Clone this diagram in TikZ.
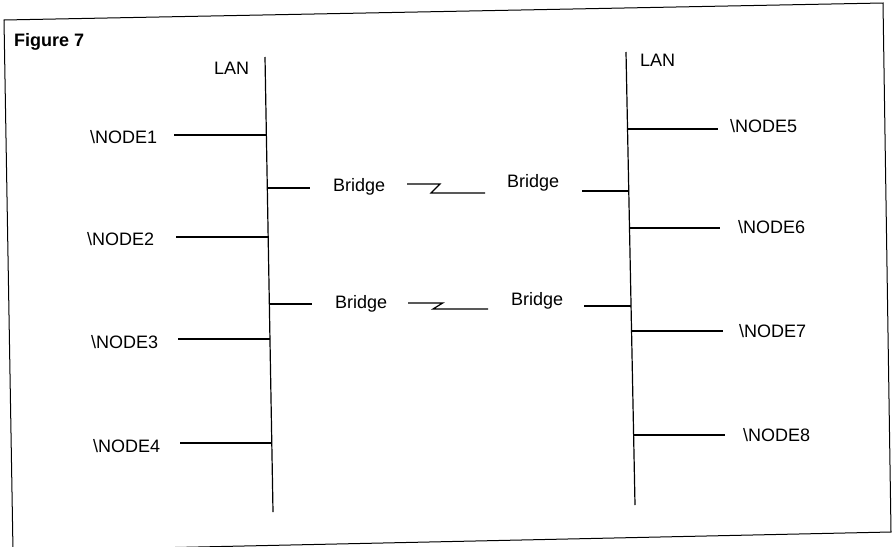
\documentclass[tikz,border=0pt]{standalone}
\usepackage{fontspec}
\setmainfont{Liberation Sans}
\newcommand{\lblfont}{\fontsize{18}{20}\selectfont}
\begin{document}
\begin{tikzpicture}[x=1pt,y=-1pt,
  wire/.style={line width=1.2pt, black},
  framestyle/.style={line width=1pt, black},
  lbl/.style={inner sep=0pt, anchor=base west, font=\lblfont}]
\useasboundingbox (0,0) rectangle (893,546);
\clip (0,0) rectangle (893,546);
% frame
\coordinate (f1) at (4,20);
\coordinate (f2) at (883,3);
\coordinate (f3) at (891,532);
\coordinate (f4) at (13,551);
\draw[framestyle] (f1) -- (f2) -- (f3) -- (f4) -- cycle;
% texts
\node[lbl, font=\bfseries\fontsize{18}{20}\selectfont] (fig) at (14,46) {Figure 7};
\node[lbl] (lanL) at (214,74) {LAN};
\node[lbl] (lanR) at (640,66) {LAN};
\node[lbl] (n1) at (90,143) {\textbackslash NODE1};
\node[lbl] (n2) at (87,245) {\textbackslash NODE2};
\node[lbl] (n3) at (91,348) {\textbackslash NODE3};
\node[lbl] (n4) at (93,452) {\textbackslash NODE4};
\node[lbl] (n5) at (730,132) {\textbackslash NODE5};
\node[lbl] (n6) at (738,233) {\textbackslash NODE6};
\node[lbl] (n7) at (739,337) {\textbackslash NODE7};
\node[lbl] (n8) at (743,441) {\textbackslash NODE8};
\node[lbl] (b1) at (333,191) {Bridge};
\node[lbl] (b2) at (507,187) {Bridge};
\node[lbl] (b3) at (335,308) {Bridge};
\node[lbl] (b4) at (511,305) {Bridge};
% LAN buses
\coordinate (LT) at (265,57);
\coordinate (LB) at (273,512);
\coordinate (RT) at (626,52);
\coordinate (RB) at (635,505);
\draw[wire] (LT) -- (LB);
\draw[wire] (RT) -- (RB);
% left node connectors
\coordinate (a1) at (266.4,135); \coordinate (e1) at (174,135);
\coordinate (a2) at (268.2,237); \coordinate (e2) at (176,237);
\coordinate (a3) at (270,339);   \coordinate (e3) at (178,339);
\coordinate (a4) at (271.8,443); \coordinate (e4) at (180,443);
\draw[wire] (e1) -- (a1);
\draw[wire] (e2) -- (a2);
\draw[wire] (e3) -- (a3);
\draw[wire] (e4) -- (a4);
% right node connectors
\coordinate (a5) at (627.5,129); \coordinate (e5) at (718,129);
\coordinate (a6) at (629.5,228); \coordinate (e6) at (720,228);
\coordinate (a7) at (631.5,331); \coordinate (e7) at (723,331);
\coordinate (a8) at (633.6,435); \coordinate (e8) at (725,435);
\draw[wire] (a5) -- (e5);
\draw[wire] (a6) -- (e6);
\draw[wire] (a7) -- (e7);
\draw[wire] (a8) -- (e8);
% upper bridge pair
\coordinate (ab1) at (267.3,188); \coordinate (eb1) at (310,188);
\draw[wire] (ab1) -- (eb1);
\coordinate (z1s) at (407,184);
\coordinate (z1a) at (440,184);
\coordinate (z1b) at (431,193);
\coordinate (z1e) at (485,193);
\draw[wire] (z1s) -- (z1a) -- (z1b) -- (z1e);
\coordinate (eb2) at (582,191); \coordinate (ab2) at (628.8,191);
\draw[wire] (eb2) -- (ab2);
% lower bridge pair
\coordinate (ab3) at (269.3,304); \coordinate (eb3) at (311.7,304);
\draw[wire] (ab3) -- (eb3);
\coordinate (z2s) at (408,303);
\coordinate (z2a) at (442.7,303);
\coordinate (z2b) at (433,309);
\coordinate (z2e) at (488,309);
\draw[wire] (z2s) -- (z2a) -- (z2b) -- (z2e);
\coordinate (eb4) at (584,306); \coordinate (ab4) at (631,306);
\draw[wire] (eb4) -- (ab4);
\end{tikzpicture}
\end{document}
